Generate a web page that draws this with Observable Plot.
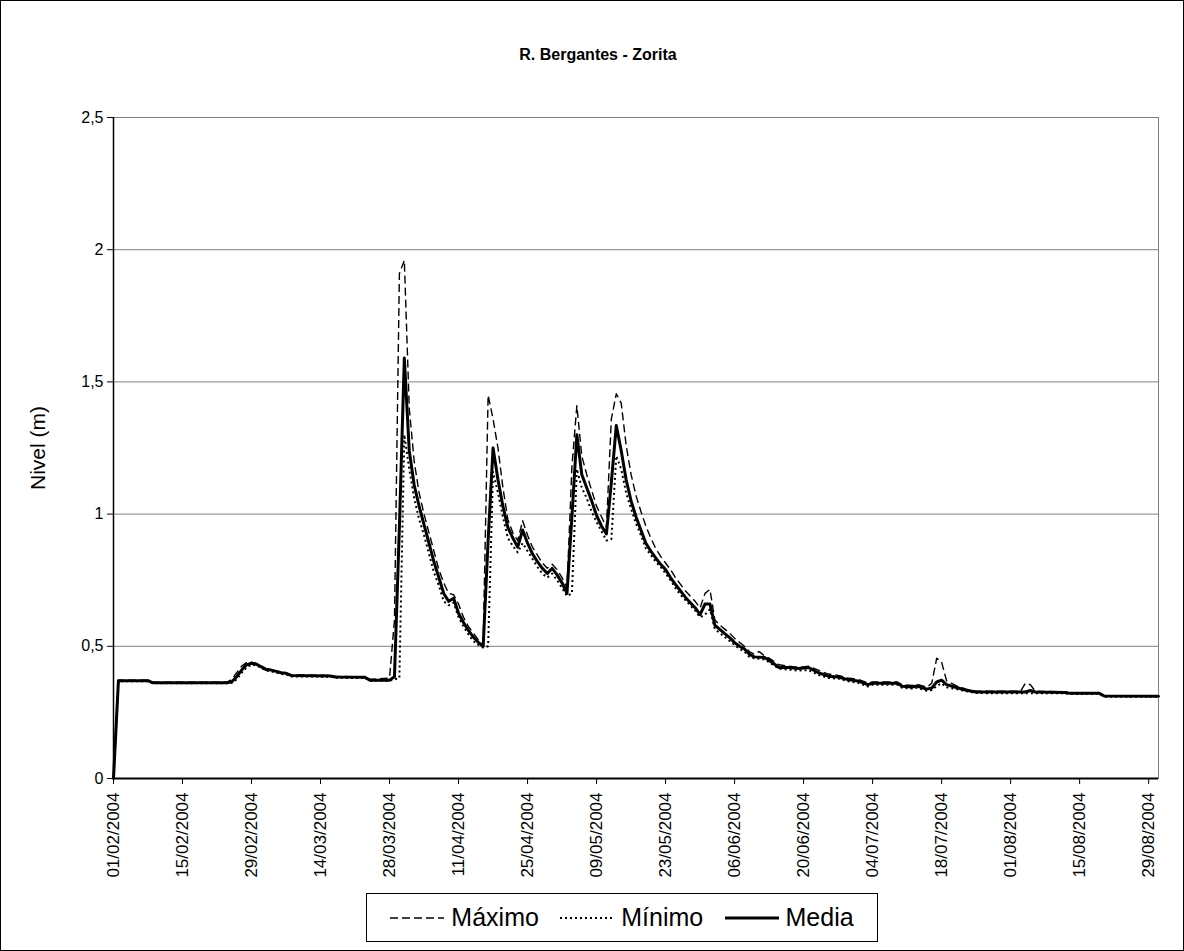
<!DOCTYPE html>
<html>
<head>
<meta charset="utf-8">
<script src="https://cdn.jsdelivr.net/npm/d3@7"></script>
<script src="https://cdn.jsdelivr.net/npm/@observablehq/plot@0.6"></script>
<style>
  html, body { margin: 0; padding: 0; background: #fff; }
  #chart { position: relative; width: 1184px; height: 951px; overflow: hidden; background: #fff;
           font-family: "Liberation Sans", Arial, sans-serif; color: #000; }
  #plot { position: absolute; left: 0; top: 0; }
  #title { position: absolute; left: 0; width: 1196px; top: 46px; text-align: center;
           font-weight: bold; font-size: 16px; line-height: 18px; }
  #ylabel { position: absolute; left: 38px; top: 448px; transform: translate(-50%, -50%) rotate(-90deg);
            font-size: 21px; white-space: nowrap; }
  #legend { position: absolute; left: 366px; top: 893px; width: 512px; height: 49px; box-sizing: border-box;
            border: 1px solid #000; background: #fff; display: flex; align-items: center;
            justify-content: space-evenly; padding: 0 2px; font-size: 25px; }
  #legend .item { display: flex; align-items: center; }
  #legend svg { margin-right: 7px; }
  #frame { position: absolute; left: 0; top: 0; width: 1184px; height: 951px; box-sizing: border-box;
           border: 1px solid #000; pointer-events: none; }
</style>
</head>
<body>
<div id="chart">
  <div id="plot"></div>
  <div id="title"></div>
  <div id="ylabel"></div>
  <div id="legend"></div>
  <div id="frame"></div>
</div>
<script>
// ---- Data ----
const titleText = "R. Bergantes - Zorita";
const yLabelText = "Nivel (m)";
const seriesNames = ["Máximo", "Mínimo", "Media"];
const xStart = "2004-02-01";
const xEnd = "2004-08-31";
const xTickLabels = ["01/02/2004","15/02/2004","29/02/2004","14/03/2004","28/03/2004","11/04/2004","25/04/2004",
  "09/05/2004","23/05/2004","06/06/2004","20/06/2004","04/07/2004","18/07/2004","01/08/2004","15/08/2004","29/08/2004"];
const yTicks = [0, 0.5, 1, 1.5, 2, 2.5];

const media = [
  ["2004-02-01",0],["2004-02-02",0.37],["2004-02-08",0.37],["2004-02-09",0.362],["2004-02-24",0.362],
  ["2004-02-25",0.366],["2004-02-26",0.385],["2004-02-27",0.41],["2004-02-28",0.43],["2004-02-29",0.436],
  ["2004-03-01",0.432],["2004-03-02",0.422],["2004-03-03",0.412],["2004-03-04",0.41],["2004-03-05",0.405],
  ["2004-03-06",0.4],["2004-03-07",0.398],["2004-03-08",0.39],["2004-03-16",0.388],["2004-03-17",0.384],
  ["2004-03-23",0.383],["2004-03-24",0.372],["2004-03-28",0.372],["2004-03-29",0.385],["2004-03-30",0.95],
  ["2004-03-31",1.59],["2004-04-01",1.24],["2004-04-02",1.11],["2004-04-03",1.03],["2004-04-04",0.96],
  ["2004-04-05",0.89],["2004-04-06",0.82],["2004-04-07",0.76],["2004-04-08",0.7],["2004-04-09",0.67],
  ["2004-04-10",0.682],["2004-04-11",0.625],["2004-04-12",0.59],["2004-04-13",0.56],["2004-04-14",0.535],
  ["2004-04-15",0.515],["2004-04-16",0.5],["2004-04-17",0.9],["2004-04-18",1.25],["2004-04-19",1.13],
  ["2004-04-20",1.03],["2004-04-21",0.95],["2004-04-22",0.91],["2004-04-23",0.875],["2004-04-24",0.94],
  ["2004-04-25",0.89],["2004-04-26",0.85],["2004-04-27",0.82],["2004-04-28",0.795],["2004-04-29",0.775],
  ["2004-04-30",0.795],["2004-05-01",0.77],["2004-05-02",0.74],["2004-05-03",0.7],["2004-05-04",0.99],
  ["2004-05-05",1.3],["2004-05-06",1.15],["2004-05-07",1.1],["2004-05-08",1.05],["2004-05-09",0.995],
  ["2004-05-10",0.955],["2004-05-11",0.925],["2004-05-12",1.12],["2004-05-13",1.335],["2004-05-14",1.24],
  ["2004-05-15",1.13],["2004-05-16",1.05],["2004-05-17",0.99],["2004-05-18",0.94],["2004-05-19",0.89],
  ["2004-05-20",0.86],["2004-05-21",0.834],["2004-05-22",0.81],["2004-05-23",0.79],["2004-05-24",0.76],
  ["2004-05-25",0.734],["2004-05-26",0.71],["2004-05-27",0.686],["2004-05-28",0.665],["2004-05-29",0.646],
  ["2004-05-30",0.62],["2004-05-31",0.66],["2004-06-01",0.66],["2004-06-02",0.58],["2004-06-03",0.564],
  ["2004-06-04",0.548],["2004-06-05",0.533],["2004-06-06",0.514],["2004-06-07",0.5],["2004-06-08",0.49],
  ["2004-06-09",0.47],["2004-06-10",0.46],["2004-06-12",0.458],["2004-06-13",0.447],["2004-06-15",0.42],
  ["2004-06-17",0.42],["2004-06-19",0.416],["2004-06-21",0.42],["2004-06-23",0.4],["2004-06-25",0.387],
  ["2004-06-27",0.384],["2004-06-29",0.374],["2004-07-01",0.369],["2004-07-03",0.355],["2004-07-04",0.36],
  ["2004-07-09",0.36],["2004-07-10",0.349],["2004-07-12",0.346],["2004-07-13",0.35],["2004-07-15",0.338],
  ["2004-07-16",0.342],["2004-07-17",0.365],["2004-07-18",0.372],["2004-07-19",0.355],["2004-07-21",0.344],
  ["2004-07-23",0.334],["2004-07-25",0.327],["2004-08-04",0.327],["2004-08-05",0.333],["2004-08-06",0.327],
  ["2004-08-12",0.325],["2004-08-13",0.322],["2004-08-19",0.322],["2004-08-20",0.312],["2004-08-31",0.311]
];

const maximo = [
  ["2004-02-01",0],["2004-02-02",0.372],["2004-02-08",0.372],["2004-02-09",0.364],["2004-02-24",0.364],
  ["2004-02-25",0.375],["2004-02-26",0.4],["2004-02-27",0.425],["2004-02-28",0.438],["2004-02-29",0.44],
  ["2004-03-01",0.435],["2004-03-02",0.425],["2004-03-03",0.415],["2004-03-04",0.412],["2004-03-05",0.407],
  ["2004-03-06",0.402],["2004-03-07",0.4],["2004-03-08",0.392],["2004-03-16",0.39],["2004-03-17",0.386],
  ["2004-03-23",0.385],["2004-03-24",0.375],["2004-03-28",0.38],["2004-03-29",0.6],["2004-03-30",1.91],
  ["2004-03-31",1.96],["2004-04-01",1.4],["2004-04-02",1.2],["2004-04-03",1.08],["2004-04-04",1.0],
  ["2004-04-05",0.93],["2004-04-06",0.86],["2004-04-07",0.79],["2004-04-08",0.74],["2004-04-09",0.7],
  ["2004-04-10",0.695],["2004-04-11",0.66],["2004-04-12",0.61],["2004-04-13",0.575],["2004-04-14",0.55],
  ["2004-04-15",0.525],["2004-04-16",0.51],["2004-04-17",1.45],["2004-04-18",1.36],["2004-04-19",1.25],
  ["2004-04-20",1.1],["2004-04-21",0.98],["2004-04-22",0.93],["2004-04-23",0.9],["2004-04-24",0.975],
  ["2004-04-25",0.92],["2004-04-26",0.875],["2004-04-27",0.845],["2004-04-28",0.815],["2004-04-29",0.795],
  ["2004-04-30",0.81],["2004-05-01",0.79],["2004-05-02",0.76],["2004-05-03",0.72],["2004-05-04",1.18],
  ["2004-05-05",1.41],["2004-05-06",1.22],["2004-05-07",1.15],["2004-05-08",1.09],["2004-05-09",1.03],
  ["2004-05-10",0.99],["2004-05-11",0.95],["2004-05-12",1.36],["2004-05-13",1.455],["2004-05-14",1.42],
  ["2004-05-15",1.26],["2004-05-16",1.15],["2004-05-17",1.07],["2004-05-18",1.01],["2004-05-19",0.955],
  ["2004-05-20",0.91],["2004-05-21",0.87],["2004-05-22",0.84],["2004-05-23",0.815],["2004-05-24",0.79],
  ["2004-05-25",0.76],["2004-05-26",0.735],["2004-05-27",0.71],["2004-05-28",0.69],["2004-05-29",0.67],
  ["2004-05-30",0.645],["2004-05-31",0.7],["2004-06-01",0.715],["2004-06-02",0.6],["2004-06-03",0.58],
  ["2004-06-04",0.565],["2004-06-05",0.55],["2004-06-06",0.53],["2004-06-07",0.515],["2004-06-08",0.5],
  ["2004-06-09",0.48],["2004-06-10",0.47],["2004-06-11",0.48],["2004-06-12",0.465],["2004-06-13",0.455],
  ["2004-06-15",0.43],["2004-06-17",0.425],["2004-06-19",0.42],["2004-06-21",0.425],["2004-06-23",0.41],
  ["2004-06-25",0.395],["2004-06-27",0.39],["2004-06-29",0.38],["2004-07-01",0.375],["2004-07-03",0.362],
  ["2004-07-04",0.365],["2004-07-09",0.365],["2004-07-10",0.355],["2004-07-12",0.352],["2004-07-13",0.356],
  ["2004-07-15",0.345],["2004-07-16",0.36],["2004-07-17",0.455],["2004-07-18",0.44],["2004-07-19",0.37],
  ["2004-07-21",0.35],["2004-07-23",0.338],["2004-07-25",0.33],["2004-08-03",0.33],["2004-08-04",0.36],
  ["2004-08-05",0.355],["2004-08-06",0.33],["2004-08-12",0.328],["2004-08-13",0.324],["2004-08-19",0.324],
  ["2004-08-20",0.313],["2004-08-31",0.313]
];

const minimo = [
  ["2004-02-01",0],["2004-02-02",0.368],["2004-02-08",0.368],["2004-02-09",0.36],["2004-02-24",0.36],
  ["2004-02-25",0.362],["2004-02-26",0.375],["2004-02-27",0.4],["2004-02-28",0.42],["2004-02-29",0.43],
  ["2004-03-01",0.428],["2004-03-02",0.418],["2004-03-03",0.408],["2004-03-04",0.405],["2004-03-05",0.4],
  ["2004-03-06",0.395],["2004-03-07",0.393],["2004-03-08",0.386],["2004-03-16",0.385],["2004-03-17",0.381],
  ["2004-03-23",0.38],["2004-03-24",0.37],["2004-03-28",0.37],["2004-03-29",0.375],["2004-03-30",0.38],
  ["2004-03-31",1.3],["2004-04-01",1.17],["2004-04-02",1.06],["2004-04-03",0.98],["2004-04-04",0.92],
  ["2004-04-05",0.85],["2004-04-06",0.78],["2004-04-07",0.73],["2004-04-08",0.67],["2004-04-09",0.655],
  ["2004-04-10",0.665],["2004-04-11",0.61],["2004-04-12",0.575],["2004-04-13",0.545],["2004-04-14",0.52],
  ["2004-04-15",0.505],["2004-04-16",0.495],["2004-04-17",0.5],["2004-04-18",1.16],["2004-04-19",1.08],
  ["2004-04-20",0.99],["2004-04-21",0.91],["2004-04-22",0.88],["2004-04-23",0.855],["2004-04-24",0.89],
  ["2004-04-25",0.86],["2004-04-26",0.83],["2004-04-27",0.8],["2004-04-28",0.775],["2004-04-29",0.76],
  ["2004-04-30",0.775],["2004-05-01",0.75],["2004-05-02",0.72],["2004-05-03",0.69],["2004-05-04",0.7],
  ["2004-05-05",1.17],["2004-05-06",1.1],["2004-05-07",1.06],["2004-05-08",1.01],["2004-05-09",0.97],
  ["2004-05-10",0.935],["2004-05-11",0.9],["2004-05-12",0.905],["2004-05-13",1.22],["2004-05-14",1.17],
  ["2004-05-15",1.08],["2004-05-16",1.02],["2004-05-17",0.965],["2004-05-18",0.92],["2004-05-19",0.87],
  ["2004-05-20",0.845],["2004-05-21",0.82],["2004-05-22",0.8],["2004-05-23",0.775],["2004-05-24",0.75],
  ["2004-05-25",0.72],["2004-05-26",0.695],["2004-05-27",0.675],["2004-05-28",0.655],["2004-05-29",0.635],
  ["2004-05-30",0.61],["2004-05-31",0.62],["2004-06-01",0.64],["2004-06-02",0.565],["2004-06-03",0.55],
  ["2004-06-04",0.535],["2004-06-05",0.52],["2004-06-06",0.505],["2004-06-07",0.49],["2004-06-08",0.48],
  ["2004-06-09",0.46],["2004-06-10",0.455],["2004-06-12",0.45],["2004-06-13",0.44],["2004-06-15",0.415],
  ["2004-06-17",0.412],["2004-06-19",0.408],["2004-06-21",0.41],["2004-06-23",0.392],["2004-06-25",0.38],
  ["2004-06-27",0.378],["2004-06-29",0.368],["2004-07-01",0.362],["2004-07-03",0.348],["2004-07-04",0.355],
  ["2004-07-09",0.355],["2004-07-10",0.343],["2004-07-12",0.34],["2004-07-13",0.343],["2004-07-15",0.332],
  ["2004-07-16",0.335],["2004-07-17",0.35],["2004-07-18",0.36],["2004-07-19",0.345],["2004-07-21",0.338],
  ["2004-07-23",0.33],["2004-07-25",0.323],["2004-08-12",0.322],["2004-08-13",0.32],["2004-08-19",0.32],
  ["2004-08-20",0.309],["2004-08-31",0.309]
];

// ---- Build ----
const parseD = d3.utcParse("%Y-%m-%d");
const parseTick = d3.utcParse("%d/%m/%Y");
const toRows = arr => arr.map(([d, v]) => ({date: parseD(d), value: v}));
const font = "'Liberation Sans', Arial, sans-serif";

const styles = {
  "Máximo": {stroke: "#000", strokeWidth: 1.4, strokeDasharray: "8,4", strokeLinecap: "butt"},
  "Mínimo": {stroke: "#000", strokeWidth: 2, strokeDasharray: "2,3", strokeLinecap: "butt"},
  "Media":  {stroke: "#000", strokeWidth: 3}
};
const seriesData = {"Máximo": maximo, "Mínimo": minimo, "Media": media};

const chart = Plot.plot({
  width: 1184,
  height: 900,
  marginLeft: 113,
  marginRight: 26,
  marginTop: 117,
  marginBottom: 122,
  style: {fontFamily: font, fontSize: "16px", color: "#000", background: "transparent"},
  x: {type: "utc", domain: [parseD(xStart), parseD(xEnd)]},
  y: {domain: [0, 2.5]},
  marks: [
    Plot.gridY(yTicks.filter(d => d > 0), {stroke: "#808080", strokeOpacity: 1, strokeWidth: 1}),
    Plot.frame({stroke: "#808080"}),
    ...seriesNames.map(name => Plot.line(toRows(seriesData[name]), {x: "date", y: "value", ...styles[name]})),
    Plot.ruleX([parseD(xStart)], {stroke: "#000", strokeWidth: 1.5}),
    Plot.ruleY([0], {stroke: "#000", strokeWidth: 2}),
    Plot.axisY(yTicks, {tickFormat: d => String(d).replace(".", ","), tickSize: 6, tickPadding: 4,
      label: null, fontSize: 16}),
    Plot.axisX(xTickLabels.map(parseTick), {tickFormat: d3.utcFormat("%d/%m/%Y"), tickRotate: -90,
      tickSize: 6, tickPadding: 8, label: null, fontSize: 17})
  ]
});
document.getElementById("plot").appendChild(chart);
document.getElementById("title").textContent = titleText;
document.getElementById("ylabel").textContent = yLabelText;

// legend
const legend = document.getElementById("legend");
seriesNames.forEach(name => {
  const item = document.createElement("div");
  item.className = "item";
  const s = styles[name];
  const svg = d3.create("svg").attr("width", 54).attr("height", 10);
  svg.append("line").attr("x1", 0).attr("x2", 54).attr("y1", 5).attr("y2", 5)
    .attr("stroke", s.stroke).attr("stroke-width", s.strokeWidth)
    .attr("stroke-dasharray", s.strokeDasharray || null);
  item.appendChild(svg.node());
  const span = document.createElement("span");
  span.textContent = name;
  item.appendChild(span);
  legend.appendChild(item);
});
</script>
</body>
</html>
